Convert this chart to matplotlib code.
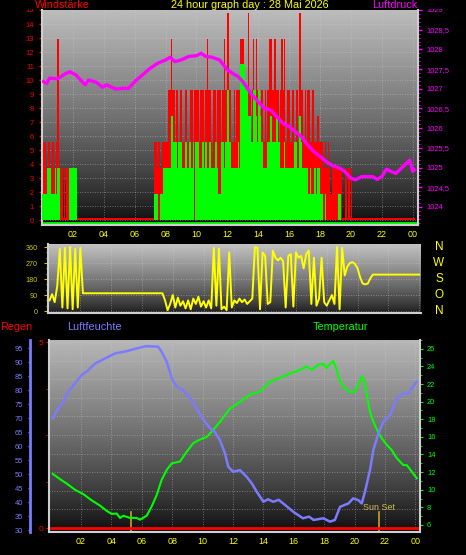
import numpy as np
import matplotlib
matplotlib.use("Agg")
import matplotlib.pyplot as plt
from matplotlib.patches import Rectangle
from matplotlib.ticker import MultipleLocator, FuncFormatter
from matplotlib.transforms import blended_transform_factory

plt.rcParams["font.family"] = ["Liberation Sans", "DejaVu Sans"]

W, H = 466, 555

TITLE = "24 hour graph day : 28 Mai 2026"
hour_ticks = [2, 4, 6, 8, 10, 12, 14, 16, 18, 20, 22, 24]
hour_labels = ["02", "04", "06", "08", "10", "12", "14", "16", "18", "20", "22", "00"]

# wind, 5 minute values in whole knots (station resolution), shown in km/h
KMH_PER_KNOT = 1.852
gust_knots = [
    5, 3, 3, 2, 2, 3, 2, 2, 3, 2, 2, 3,   # 00
    7, 2, 2, 2, 0, 2, 0, 2, 2, 2, 2, 2,   # 01
    2, 2, 2, 0, 0, 0, 0, 0, 0, 0, 0, 0,   # 02
    0, 0, 0, 0, 0, 0, 0, 0, 0, 0, 0, 0,   # 03
    0, 0, 0, 0, 0, 0, 0, 0, 0, 0, 0, 0,   # 04
    0, 0, 0, 0, 0, 0, 0, 0, 0, 0, 0, 0,   # 05
    0, 0, 0, 0, 0, 0, 0, 0, 0, 0, 0, 0,   # 06
    0, 0, 0, 3, 3, 2, 3, 3, 2, 3, 3, 3,   # 07
    3, 3, 5, 5, 7, 5, 5, 3, 5, 5, 3, 5,   # 08
    5, 3, 3, 5, 5, 3, 3, 5, 5, 3, 5, 5,   # 09
    5, 5, 3, 5, 5, 5, 3, 5, 7, 5, 5, 3,   # 10
    1, 5, 5, 3, 5, 5, 5, 3, 5, 7, 5, 5,   # 11
    8, 5, 5, 3, 3, 5, 3, 5, 5, 5, 7, 7,   # 12
    7, 5, 5, 5, 8, 5, 3, 5, 7, 5, 7, 5,   # 13
    5, 3, 5, 5, 3, 5, 3, 5, 7, 7, 7, 5,   # 14
    7, 7, 5, 5, 3, 5, 7, 5, 7, 3, 5, 5,   # 15
    5, 3, 5, 5, 3, 5, 5, 3, 8, 5, 5, 3,   # 16
    5, 3, 5, 5, 3, 3, 5, 3, 3, 3, 4, 3,   # 17
    3, 3, 2, 2, 3, 2, 3, 2, 1, 2, 2, 2,   # 18
    2, 2, 2, 2, 2, 0, 0, 2, 2, 0, 2, 0,   # 19
    2, 0, 0, 0, 0, 0, 0, 0, 0, 0, 0, 0,   # 20
    0, 0, 0, 0, 0, 0, 0, 0, 0, 0, 0, 0,   # 21
    0, 0, 0, 0, 0, 0, 0, 0, 0, 0, 0, 0,   # 22
    0, 0, 0, 0, 0, 0, 0, 0, 0, 0, 0, 0,   # 23
]
avg_knots = [
    1, 1, 1, 1, 2, 2, 2, 1, 1, 1, 2, 1,   # 00
    2, 2, 0, 0, 0, 0, 0, 0, 0, 2, 2, 2,   # 01
    2, 2, 2, 0, 0, 0, 0, 0, 0, 0, 0, 0,   # 02
    0, 0, 0, 0, 0, 0, 0, 0, 0, 0, 0, 0,   # 03
    0, 0, 0, 0, 0, 0, 0, 0, 0, 0, 0, 0,   # 04
    0, 0, 0, 0, 0, 0, 0, 0, 0, 0, 0, 0,   # 05
    0, 0, 0, 0, 0, 0, 0, 0, 0, 0, 0, 0,   # 06
    0, 0, 0, 1, 1, 1, 0, 0, 1, 1, 2, 2,   # 07
    2, 2, 2, 2, 4, 4, 3, 3, 3, 2, 3, 3,   # 08
    3, 2, 2, 3, 3, 2, 3, 3, 2, 3, 0, 3,   # 09
    3, 3, 2, 2, 3, 3, 2, 3, 2, 2, 3, 2,   # 10
    2, 2, 3, 3, 2, 1, 1, 3, 3, 2, 3, 3,   # 11
    5, 3, 3, 2, 2, 2, 2, 2, 3, 2, 6, 6,   # 12
    6, 6, 5, 5, 4, 4, 3, 3, 5, 5, 4, 3,   # 13
    5, 4, 3, 3, 2, 2, 2, 3, 3, 4, 4, 3,   # 14
    3, 3, 4, 3, 3, 2, 2, 2, 3, 2, 2, 2,   # 15
    2, 2, 2, 2, 3, 3, 2, 2, 4, 3, 2, 2,   # 16
    2, 2, 2, 1, 2, 1, 1, 2, 2, 1, 2, 2,   # 17
    1, 1, 0, 0, 1, 0, 0, 0, 0, 0, 0, 0,   # 18
    0, 0, 1, 1, 0, 0, 0, 0, 0, 0, 0, 0,   # 19
    0, 0, 0, 0, 0, 0, 0, 0, 0, 0, 0, 0,   # 20
    0, 0, 0, 0, 0, 0, 0, 0, 0, 0, 0, 0,   # 21
    0, 0, 0, 0, 0, 0, 0, 0, 0, 0, 0, 0,   # 22
    0, 0, 0, 0, 0, 0, 0, 0, 0, 0, 0, 0,   # 23
]

pressure_hours = [0.1, 0.3, 0.5, 1.0, 1.5, 1.8, 2.2, 2.5, 2.8, 3.0, 3.5, 3.9, 4.2, 4.5,
                  4.8, 5.2, 5.6, 6.0, 6.5, 7.0, 7.5, 8.0, 8.3, 8.6, 9.0, 9.5, 10.0, 10.3,
                  10.6, 11.0, 11.5, 12.0, 12.5, 12.7, 13.0, 13.3, 13.6, 14.0, 14.4, 14.8,
                  15.2, 15.6, 16.0, 16.4, 16.8, 17.2, 17.6, 18.0, 18.4, 18.8, 19.3, 19.6,
                  20.0, 20.3, 20.7, 21.0, 21.4, 21.7, 22.0, 22.3, 22.6, 22.9, 23.2, 23.5,
                  23.8, 24.0, 24.1]
pressure_hpa = [1027.18, 1027.14, 1027.27, 1027.25, 1027.38, 1027.43, 1027.35, 1027.22,
                1027.10, 1027.22, 1027.17, 1027.04, 1027.10, 1027.04, 1026.99, 1027.01,
                1027.01, 1027.18, 1027.35, 1027.52, 1027.65, 1027.73, 1027.80, 1027.69,
                1027.73, 1027.82, 1027.84, 1027.90, 1027.82, 1027.80, 1027.73, 1027.48,
                1027.35, 1027.31, 1027.18, 1027.01, 1026.84, 1026.67, 1026.50, 1026.46,
                1026.29, 1026.12, 1026.04, 1025.91, 1025.78, 1025.57, 1025.40, 1025.28,
                1025.15, 1025.05, 1024.98, 1024.90, 1024.73, 1024.69, 1024.77, 1024.77,
                1024.77, 1024.70, 1024.77, 1024.96, 1024.90, 1024.85, 1024.96, 1025.07,
                1025.19, 1024.90, 1024.94]

# wind direction, 10 minute values in degrees
direction_deg = (
    [60, 95, 50, 140, 350, 20] + [355, 15, 360, 10, 350, 20] + [355, 100, 100, 100, 100, 100]
    + [100] * 24
    + [100, 100, 100, 60, 5, 40] + [90, 20, 75, 30, 55, 15] + [60, 10, 70, 40, 80, 25]
    + [55, 20, 60, 15, 355, 30] + [350, 10, 25, 5, 330, 20] + [60, 45, 70, 50, 65, 40]
    + [55, 70, 360, 355, 10, 330] + [310, 40, 50, 340, 300, 285] + [300, 280, 20, 310, 320, 25]
    + [330, 300, 310, 240, 320, 340] + [40, 300, 30, 70, 300, 50] + [30, 60, 90, 40, 360, 10]
    + [355, 200, 250, 270, 275, 265] + [240, 190, 155, 150, 155, 185]
    + [205] * 19
)
direction_ticks = [0, 90, 180, 270, 360]
direction_letters = ["N", "O", "S", "W", "N"]

humidity_hours = [0.14, 0.5, 0.84, 1.16, 1.6, 2.05, 2.48, 2.92, 3.36, 3.8, 4.24, 5.0, 5.66,
                  6.3, 7.08, 7.3, 7.64, 7.97, 8.3, 8.73, 9.28, 9.72, 10.16, 10.6, 10.8,
                  11.14, 11.47, 11.69, 12.0, 12.46, 12.9, 13.23, 13.56, 14.0, 14.3, 14.65,
                  15.0, 15.3, 15.97, 16.6, 17.0, 17.3, 17.94, 18.38, 18.7, 19.04, 19.59,
                  19.9, 20.24, 20.47, 20.68, 21.01, 21.23, 21.56, 21.89, 22.33, 22.77,
                  23.2, 23.53, 23.75, 24.08]
humidity_pct = [69.9, 73.5, 75.8, 79.4, 82.4, 85.4, 87.1, 89.5, 90.7, 91.9, 93.1, 93.9, 94.9,
                95.7, 95.5, 93.7, 90.1, 84.2, 81.2, 80.0, 76.4, 72.3, 68.7, 65.7, 65.1,
                62.1, 57.4, 52.6, 50.8, 51.4, 49.0, 46.7, 43.7, 40.1, 41.0, 40.1,
                40.8, 39.5, 36.5, 34.2, 34.8, 33.6, 34.2, 33.0, 33.6, 38.3, 39.5,
                41.3, 40.7, 39.5, 43.7, 51.4, 58.6, 64.5, 68.7, 71.1, 77.0,
                78.8, 78.8, 80.6, 83.0]

temp_hours = [0.14, 0.62, 1.06, 1.6, 2.15, 2.7, 3.25, 3.69, 4.02, 4.35, 4.57, 4.79, 5.22,
              5.66, 5.88, 6.32, 6.65, 6.98, 7.3, 7.64, 7.97, 8.51, 8.95, 9.39, 9.83, 10.27,
              10.6, 11.14, 11.8, 12.46, 13.12, 13.78, 14.43, 15.1, 15.75, 16.4, 16.85,
              17.18, 17.61, 17.94, 18.16, 18.38, 18.6, 18.82, 19.04, 19.37, 19.7, 20.03,
              20.24, 20.47, 20.62, 20.8, 21.0, 21.23, 21.56, 21.78, 22.11, 22.44, 22.77,
              23.2, 23.43, 23.76, 24.09]
temp_c = [11.8, 11.2, 10.7, 10.0, 9.5, 8.8, 8.2, 7.6, 7.25, 7.3, 6.8, 7.05, 6.8,
          6.8, 6.6, 7.05, 8.1, 9.4, 11.1, 12.25, 13.0, 13.2, 14.3, 15.3, 15.7, 16.0,
          16.6, 17.7, 19.2, 20.0, 20.8, 21.15, 22.3, 22.7, 23.2, 23.6, 24.0,
          23.6, 24.2, 24.3, 23.8, 24.3, 24.6, 23.6, 22.3, 21.5, 21.1, 21.15,
          21.9, 22.85, 22.5, 20.8, 18.9, 17.7, 16.5, 15.85, 15.1, 14.5, 13.6,
          12.8, 12.8, 12.05, 11.3]

rain_hours = [0.0, 24.2]
rain_mm = [0.0, 0.0]

sun_rise = 5.3
sun_set = 21.6

RED = "#ff0000"
GREEN = "#00ff00"
MAGENTA = "#ff00ff"
YELLOW = "#ffff00"
BLUE = "#7b7bff"
FRAME = "#cfcfcf"
GRID = dict(color="#d0d0d0", linestyle=(0, (1, 2)), linewidth=0.6, alpha=0.55)


def px(v):
    return v * 0.72  # pixels -> points at 100 dpi


def gradient_bg(ax, top=0.74, bottom=0.04):
    t = np.linspace(0, 1, 256).reshape(-1, 1)
    shade = bottom + (top - bottom) * (1 - t) ** 0.8
    ax.imshow(shade, cmap="gray", vmin=0, vmax=1, aspect="auto", extent=(0, 1, 0, 1),
              transform=ax.transAxes, zorder=0, interpolation="bilinear")


def frame(ax, sides):
    for name, sp in ax.spines.items():
        if name in sides:
            sp.set_color(FRAME)
            sp.set_linewidth(1.5)
        else:
            sp.set_visible(False)


fig = plt.figure(figsize=(W / 100, H / 100), dpi=100, facecolor="black")

# ---- panel 1: wind speed / pressure
ax1 = fig.add_axes([42 / W, 1 - 225 / H, 376 / W, 215 / H])
gradient_bg(ax1)
hours5 = np.arange(len(gust_knots)) / 12
gust = np.array(gust_knots) * KMH_PER_KNOT
avg = np.array(avg_knots) * KMH_PER_KNOT
ax1.plot([0.1, 24.1], [0.05, 0.05], color=RED, lw=1.4, zorder=1.5)
ax1.plot([0.1, 24.3], [-0.22, -0.22], color=GREEN, lw=2, zorder=1.5)
ax1.bar(hours5, gust, width=1 / 12, align="edge", color=RED, lw=0, zorder=2)
ax1.bar(hours5, avg, width=1 / 12, align="edge", color=GREEN, lw=0, zorder=3)
ax1.set_xlim(0, 24.34)
ax1.set_ylim(-0.35, 15)
ax1.set_xticks(hour_ticks)
ax1.set_xticklabels(hour_labels)
ax1.yaxis.set_major_locator(MultipleLocator(1))
ax1.yaxis.set_minor_locator(MultipleLocator(0.5))
ax1.tick_params(axis="x", length=0, pad=px(5), labelsize=6.5, labelcolor=YELLOW)
ax1.tick_params(axis="y", which="major", direction="out", length=px(3), width=1,
                color=RED, pad=px(5), labelsize=5.4, labelcolor=RED)
ax1.tick_params(axis="y", which="minor", direction="out", length=px(2), color=RED)
ax1.set_axisbelow(True)
ax1.grid(True, **GRID)
frame(ax1, ["left", "bottom"])

ax1p = ax1.twinx()
ax1p.plot(pressure_hours, pressure_hpa, color=MAGENTA, lw=2.4, zorder=4)
ax1p.set_ylim(1023.54, 1029.0)
ax1p.set_yticks(np.arange(1024, 1029.01, 0.5))
ax1p.yaxis.set_minor_locator(MultipleLocator(0.1))
ax1p.yaxis.set_major_formatter(FuncFormatter(lambda v, _: f"{v:g}".replace(".", ",")))
ax1p.tick_params(axis="y", which="major", direction="out", length=px(3.5), width=1,
                 color=MAGENTA, pad=px(5), labelsize=5.4, labelcolor=MAGENTA)
ax1p.tick_params(axis="y", which="minor", direction="out", length=px(2), color=MAGENTA)
frame(ax1p, ["right"])

# ---- panel 2: wind direction
ax2 = fig.add_axes([48 / W, 1 - 313 / H, 373 / W, 69 / H])
gradient_bg(ax2, top=0.76, bottom=0.1)
hours_dir = np.arange(len(direction_deg)) / 6
ax2.plot(hours_dir, direction_deg, color=YELLOW, lw=1.4, zorder=3)
ax2.set_xlim(-0.1, 24.12)
ax2.set_ylim(-11, 377)
ax2.set_xticks(hour_ticks)
ax2.set_xticklabels([])
ax2.set_yticks(direction_ticks)
ax2.yaxis.set_minor_locator(MultipleLocator(30))
ax2.tick_params(axis="x", length=0)
ax2.tick_params(axis="y", which="major", direction="out", length=px(4), color="#c8c800",
                pad=px(6), labelsize=5.2, labelcolor="#c8c800")
ax2.tick_params(axis="y", which="minor", direction="out", length=px(2.5), color="#c8c800")
ax2.set_axisbelow(True)
ax2.grid(True, **GRID)
frame(ax2, ["left", "bottom"])
letter_tf = blended_transform_factory(ax2.transAxes, ax2.transData)
for deg, letter in zip(direction_ticks, direction_letters):
    ax2.text(1.048, deg, letter, transform=letter_tf, color=YELLOW, fontsize=8.5,
             ha="center", va="center", clip_on=False)

# ---- panel 3: rain / humidity / temperature
ax3 = fig.add_axes([49 / W, 1 - 532 / H, 371 / W, 192 / H])
gradient_bg(ax3, top=0.72, bottom=0.04)
ax3.set_xlim(-0.105, 24.3)
ax3.set_ylim(-0.1075, 5.054)
for y in np.arange(0.5, 5.01, 0.5):
    ax3.axhline(y, zorder=0.5, **GRID)
ax3.set_xticks(hour_ticks)
ax3.set_xticklabels(hour_labels)
ax3.set_yticks([0, 5])
ax3.yaxis.set_minor_locator(MultipleLocator(1.25))
ax3.tick_params(axis="x", length=0, pad=px(5), labelsize=6.5, labelcolor=YELLOW)
ax3.tick_params(axis="y", which="major", direction="out", length=px(3), color=RED,
                pad=px(3), labelsize=6, labelcolor=RED)
ax3.tick_params(axis="y", which="minor", direction="out", length=px(3), color=RED)
ax3.grid(True, axis="x", zorder=0.5, **GRID)
ax3.axvline(sun_rise, ymin=0, ymax=0.104, color="#c8a030", lw=1.2, zorder=1)
ax3.axvline(sun_set, ymin=0, ymax=0.104, color="#c8a030", lw=1.2, zorder=1)
ax3.text(sun_set, 0.125, "Sun Set", transform=blended_transform_factory(ax3.transData, ax3.transAxes),
         color="#d2bc50", fontsize=6.4, ha="center", va="center", zorder=2)
ax3.plot(rain_hours, rain_mm, color=RED, lw=2, zorder=2)
frame(ax3, ["left", "bottom"])

axt = ax3.twinx()
axt.plot(temp_hours, temp_c, color=GREEN, lw=1.5, zorder=3)
axt.set_ylim(5.2, 27.0)
axt.yaxis.set_major_locator(MultipleLocator(2))
axt.yaxis.set_minor_locator(MultipleLocator(1))
axt.tick_params(axis="y", which="major", direction="out", length=px(3), color=GREEN,
                pad=px(4), labelsize=5.4, labelcolor=GREEN)
axt.tick_params(axis="y", which="minor", direction="out", length=px(2), color=GREEN)
frame(axt, ["right"])

axh = ax3.twinx()
axh.plot(humidity_hours, humidity_pct, color=BLUE, lw=1.8, zorder=3)
axh.set_ylim(29.3, 97.9)
axh.yaxis.set_major_locator(MultipleLocator(5))
axh.yaxis.set_ticks_position("left")
axh.yaxis.set_label_position("left")
for name, sp in axh.spines.items():
    sp.set_visible(name == "left")
axh.spines["left"].set_position(("outward", px(19)))
axh.spines["left"].set_color(BLUE)
axh.spines["left"].set_linewidth(2)
axh.tick_params(axis="y", direction="out", length=px(2), color=BLUE, pad=px(5),
                labelsize=5.4, labelcolor=BLUE)

# ---- titles
fig.patches.append(Rectangle((0, 1 - 9 / H), 1, 9 / H, transform=fig.transFigure,
                             facecolor="black", edgecolor="none", zorder=5))
title_kw = dict(fontsize=7.8, va="center", zorder=6)
fig.text(35 / W, 1 - 5 / H, "Windstärke", color=RED, ha="left", **title_kw)
fig.text(250 / W, 1 - 5 / H, TITLE, color=YELLOW, ha="center", **title_kw)
fig.text(372 / W, 1 - 5 / H, "Luftdruck", color=MAGENTA, ha="left", **title_kw)
fig.text(0 / W, 1 - 327 / H, "Regen", color=RED, ha="left", **title_kw)
fig.text(67 / W, 1 - 327 / H, "Luftfeuchte", color=BLUE, ha="left", **title_kw)
fig.text(313 / W, 1 - 327 / H, "Temperatur", color=GREEN, ha="left", **title_kw)

fig.savefig("out.png", dpi=100, facecolor="black")
